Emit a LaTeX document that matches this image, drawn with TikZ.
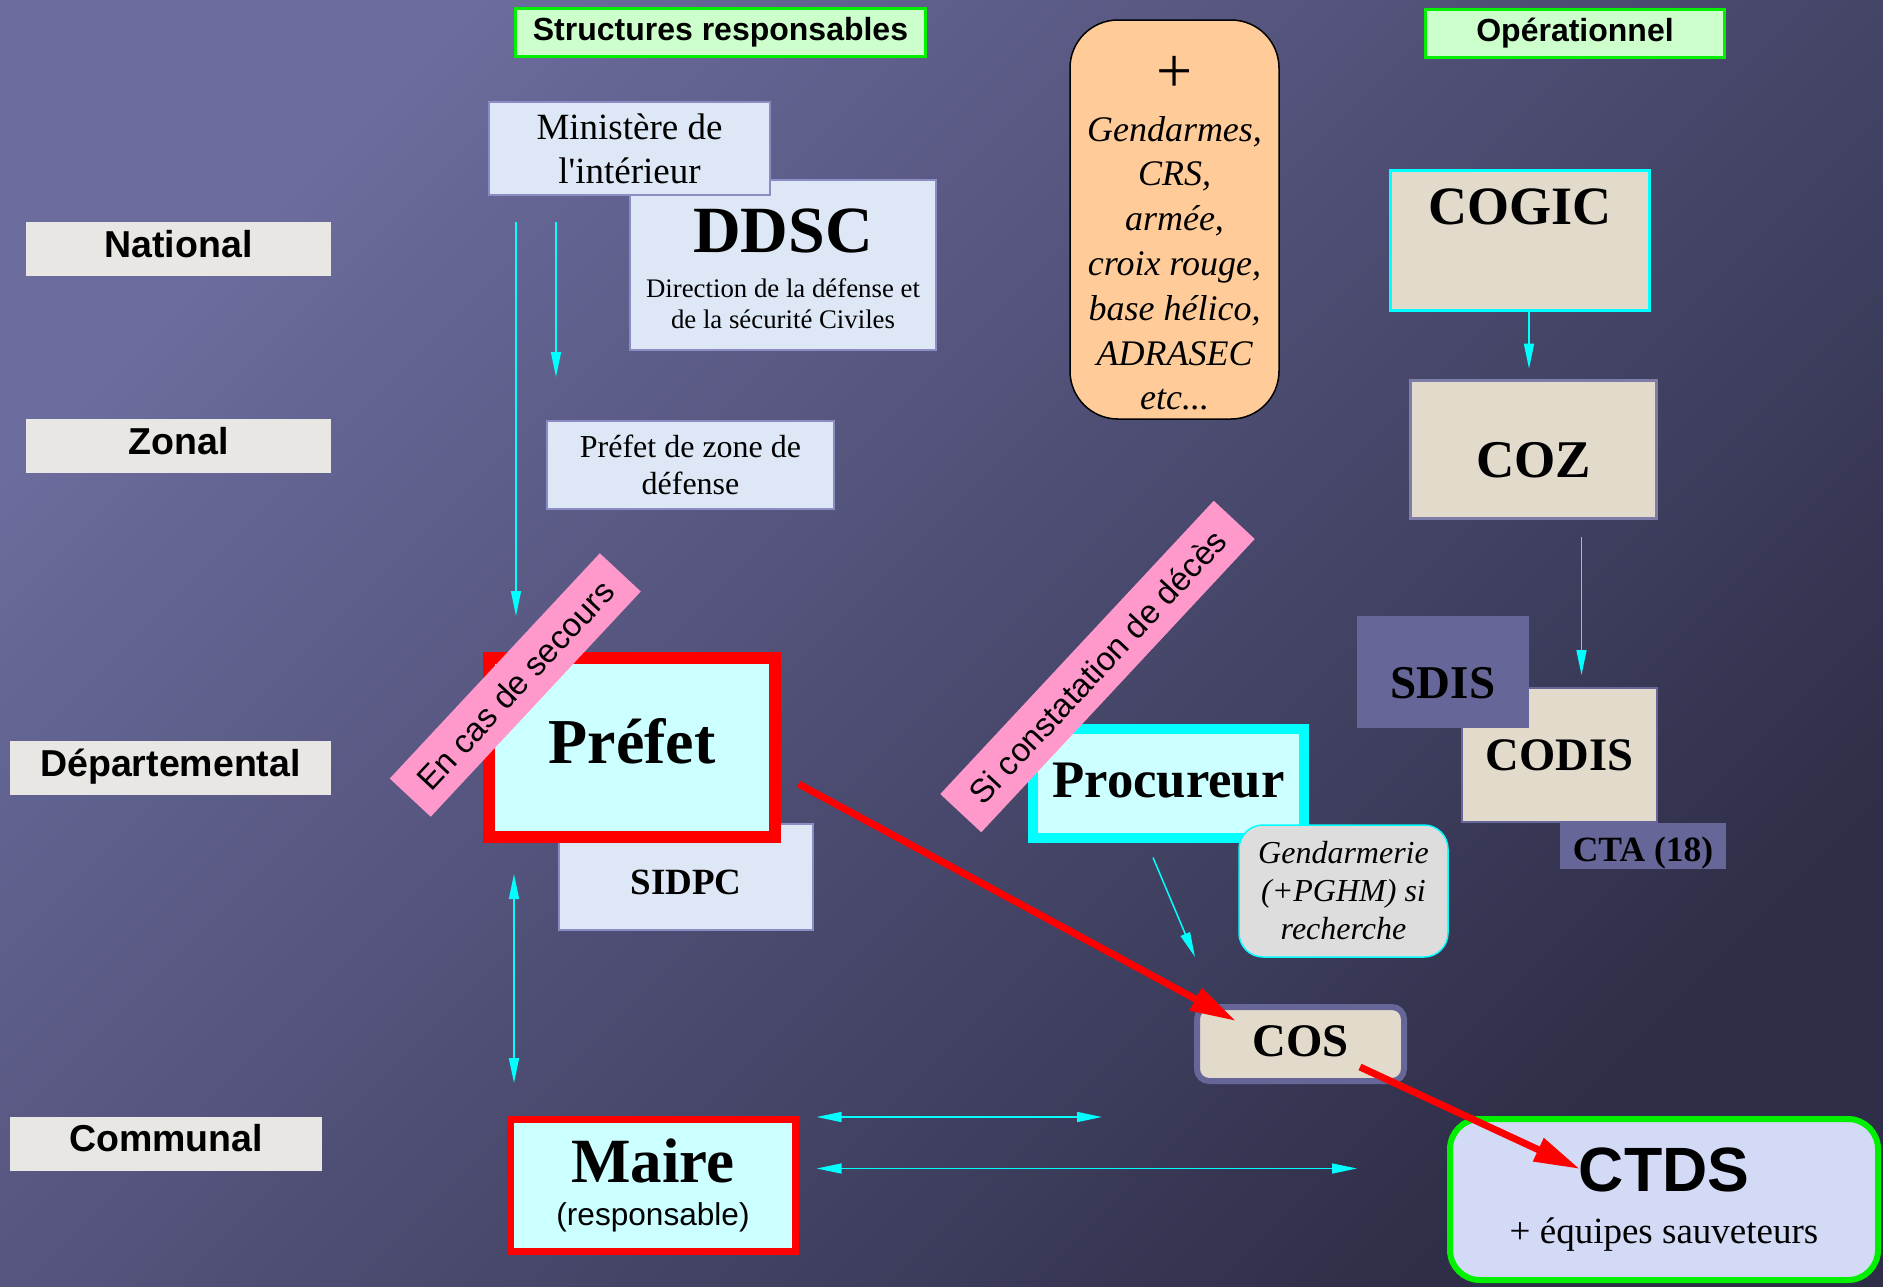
\documentclass[tikz,border=0pt]{standalone}
\usepackage{fontspec}
\setmainfont{Liberation Serif}
\setsansfont{Liberation Sans}
\newfontfamily\myserifdroit{Liberation Serif}
\usetikzlibrary{calc,arrows.meta,positioning}
\definecolor{myfondhaut}{RGB}{108,108,158}
\definecolor{myfondbas}{RGB}{46,46,72}
\definecolor{myvert}{RGB}{204,255,204}
\definecolor{myvertvif}{RGB}{0,240,0}
\definecolor{mygranit}{RGB}{233,231,228}
\definecolor{mybleuclair}{RGB}{221,231,246}
\definecolor{mybord}{RGB}{140,140,196}
\definecolor{mysable}{RGB}{226,218,203}
\definecolor{myviolet}{RGB}{102,102,153}
\definecolor{mycyanclair}{RGB}{204,255,255}
\definecolor{mycyan}{RGB}{0,255,255}
\definecolor{myrouge}{RGB}{255,0,0}
\definecolor{myorange}{RGB}{255,204,153}
\definecolor{mygris}{RGB}{221,221,221}
\definecolor{myrose}{RGB}{255,153,204}
\definecolor{mylavande}{RGB}{210,218,246}

\begin{document}
\begin{tikzpicture}[
  x=1pt, y=-1pt,
  mytitre/.style={
    draw=myvertvif,
    line width=3pt,
    fill=myvert,
    inner sep=0pt,
    minimum height=48pt,
    font=\sffamily\bfseries\fontsize{32}{38}\selectfont
    },
  myniveau/.style={
    fill=mygranit,
    inner sep=0pt,
    minimum width=#1,
    text height=35pt,
    text depth=19pt,
    font=\sffamily\bfseries\fontsize{37.5}{40}\selectfont
    },
  mypapier/.style={
    draw=mybord,
    line width=2pt,
    fill=mybleuclair,
    inner sep=0pt,
    align=center
    },
  mycentre/.style={
    fill=mysable,
    inner sep=0pt,
    font=\bfseries\fontsize{#1}{#1}\selectfont
    },
  mycadre/.style={
    fill=mycyanclair,
    inner sep=0pt
    },
  mybande/.style={
    fill=myrose,
    rotate=47,
    inner sep=0pt,
    minimum height=56pt,
    font=\sffamily\fontsize{33}{33}\selectfont
    },
  mylien/.style={
    draw=mycyan,
    line width=1.5pt,
    -{Triangle[length=25pt,width=10pt]}
    },
  mylienbis/.style={
    draw=mycyan,
    line width=1.5pt,
    {Triangle[length=25pt,width=10pt]}-{Triangle[length=25pt,width=10pt]}
    },
  myfleche/.style={
    draw=myrouge,
    line width=7pt,
    -{Triangle[length=46pt,width=24pt]}
    }
]

\useasboundingbox (0,0) rectangle (1883,1286);
\shade[top color=myfondhaut, bottom color=myfondbas, shading angle=45] (0,0) rectangle (1883,1286);

\node[mytitre, minimum width=410pt] (structures) at (720.5,32.5) {Structures responsables};
\node[mytitre, minimum width=299pt] (operationnel) at (1575,33.5) {Opérationnel};

\foreach \Niveau/\Nx/\Ny/\Nw [count=\Ni] in {National/178.5/249/305, Zonal/178.5/446/305, Départemental/170.5/768/321, Communal/166/1143.5/312}
  \node[myniveau=\Nw pt] (niveau\Ni) at (\Nx,\Ny) {\Niveau};

\node[mypapier, minimum width=306pt, minimum height=170pt, font=\fontsize{26.8}{31}\selectfont]
  (ddsc) at (783,265)
  {{\bfseries\fontsize{66}{66}\selectfont DDSC\rule{0pt}{51.6pt}}\\[14pt]
  Direction de la défense et\\de la sécurité Civiles};
\node[mypapier, minimum width=281pt, minimum height=93pt, font=\myserifdroit\fontsize{37}{44}\selectfont]
  (ministere) at (629.5,148.5) {Ministère de\\l'intérieur};
\node[mypapier, minimum width=287pt, minimum height=88pt, font=\fontsize{32}{37.5}\selectfont]
  (zone) at (690.5,465) {Préfet de zone de\\défense};

\node[draw=black, line width=1.5pt, fill=myorange, rounded corners=48pt, inner sep=0pt,
  minimum width=209pt, minimum height=399pt, align=center, font=\itshape\fontsize{36}{44.8}\selectfont]
  (renforts) at (1174.5,219.5)
  {{\upshape\fontsize{64}{64}\selectfont +\rule{0pt}{63.5pt}}\\[4.2pt]
  Gendarmes,\\CRS,\\armée,\\croix rouge,\\base hélico,\\ADRASEC\\etc...};

\node[mycentre=54, draw=mycyan, line width=3pt, minimum width=259pt, text height=54pt, text depth=86pt]
  (cogic) at (1520,240.5) {COGIC};
\node[mycentre=53, draw=myviolet!85!white, line width=3pt, minimum width=246pt, text height=97pt, text depth=41pt]
  (coz) at (1533.5,449.5) {COZ};
\node[mycentre=35.5, fill=myviolet, minimum width=166pt, text height=38pt, text depth=8pt]
  (cta) at (1643,846) {CTA (18)};
\node[mycentre=46.6, draw=myviolet, line width=2pt, minimum width=195pt, minimum height=134pt]
  (codis) at (1559.5,755) {CODIS};
\node[mycentre=47, fill=myviolet, minimum width=172pt, text height=82.5pt, text depth=29.5pt]
  (sdis) at (1443,672) {SDIS};

\node[mypapier, minimum width=254pt, text height=70pt, text depth=36pt, font=\bfseries\fontsize{37}{40}\selectfont]
  (sidpc) at (686,877) {SIDPC};
\node[mycadre, draw=myrouge, line width=12pt, minimum width=286pt, text height=105.5pt, text depth=73.5pt, font=\bfseries\fontsize{64}{64}\selectfont]
  (prefet) at (632,747.5) {Préfet};
\node[mycadre, draw=mycyan, line width=10pt, minimum width=271pt, text height=68.3pt, text depth=40.7pt, font=\bfseries\fontsize{52.7}{54}\selectfont]
  (procureur) at (1168.5,783.5) {Procureur};
\node[draw=mycyan, line width=1.5pt, fill=mygris, rounded corners=24pt, inner sep=0pt,
  minimum width=209pt, minimum height=132pt, align=center, font=\itshape\fontsize{32}{38}\selectfont]
  (gendarmerie) at (1343.5,891) {Gendarmerie\\(+PGHM) si\\recherche};

\node[mybande, minimum width=308pt] (secours) at (515.25,685) {En cas de secours};
\node[mybande, minimum width=401pt] (deces) at (1097.5,666.5) {Si constatation de décès};

\node[mycentre=46.7, draw=myviolet, line width=6pt, rounded corners=12pt, minimum width=207pt, text height=49pt, text depth=25pt]
  (cos) at (1300.5,1044) {COS};
\node[draw=myvertvif, line width=6pt, fill=mylavande, rounded corners=30pt, inner sep=0pt,
  minimum width=428pt, minimum height=161pt, align=center, font=\fontsize{37}{44}\selectfont]
  (ctds) at (1664,1199.5)
  {{\sffamily\bfseries\fontsize{62.6}{62.6}\selectfont CTDS}\\[8pt]
  + équipes sauveteurs};
\node[mycadre, draw=myrouge, line width=7pt, minimum width=285pt, minimum height=132pt,
  align=center, font=\sffamily\fontsize{31.6}{38}\selectfont]
  (maire) at (653,1185.5)
  {{\rmfamily\bfseries\fontsize{63}{63}\selectfont Maire}\\[5pt]
  (responsable)};

\draw[mylien] ($(ministere.south west)+(28,26)$) -- ($(prefet.north west)+(33,-36)$);
\draw[mylien] ($(ministere.south west)+(68,26)$) -- ($(zone.north west)+(10,-43)$);
\draw[mylienbis] ($(prefet.south west)+(31,31)$) -- ($(maire.north west)+(7,-33)$);
\draw[mylienbis] ($(maire.north east)+(17.6,1)$) -- ($(cos.south west)+(-92,33)$);
\draw[mylienbis] ($(maire.east)+(17.6,-17)$) -- ($(ctds.west)+(-90,-31)$);
\draw[mylien] ($(cogic.south)+(9,0)$) -- ($(coz.north)+(-4.5,-10.3)$);
\draw[mylien] ($(coz.south)+(48,17)$) -- ($(codis.north)+(22,-12)$);
\draw[mylien] ($(procureur.south)+(-15.5,14.5)$) -- ($(cos.north)+(-105.5,-47)$);

\draw[myfleche] ($(prefet.east)+(17.6,36.5)$) -- ($(cos.north west)+(42,17)$);
\draw[myfleche] ($(cos.east)+(-47,23)$) -- ($(ctds.north west)+(133,53)$);

\end{tikzpicture}
\end{document}
